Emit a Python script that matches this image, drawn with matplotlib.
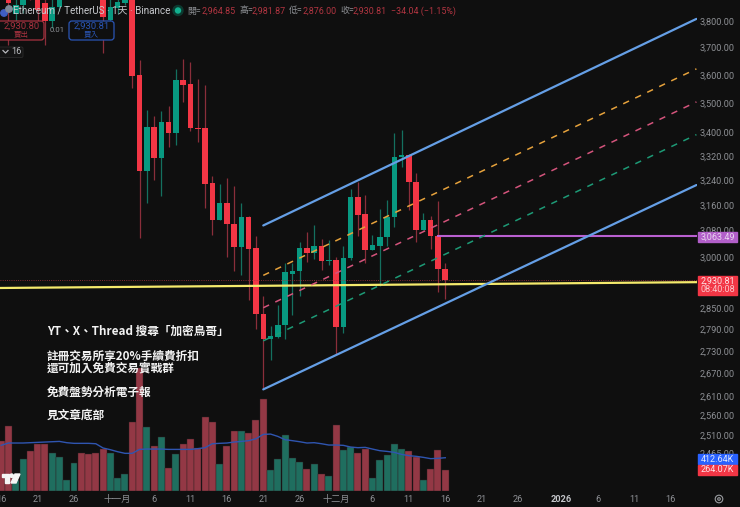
import matplotlib
matplotlib.use("Agg")
import matplotlib.pyplot as plt
from matplotlib.patches import Circle, FancyBboxPatch, Polygon, Rectangle
from matplotlib.ticker import FixedLocator, FuncFormatter, NullLocator
from matplotlib.transforms import Affine2D

plt.rcParams["font.family"] = ["Roboto", "Noto Sans CJK TC", "DejaVu Sans"]

# daily candles, 16 Oct to 16 Dec
opens = [3985, 3900, 3825, 3860, 3985, 3890, 3870, 3800, 3853, 3930, 4010, 4060, 3990, 3960, 3940,
         3804, 3850, 3868, 3907, 3600, 3270, 3417, 3311, 3434, 3396, 3582, 3568, 3414, 3414, 3231,
         3112, 3168, 3102, 3029, 3121, 3026, 2833, 2764, 2769, 2803, 2948, 2957, 3026, 3011, 3032,
         2987, 2990, 2797, 2996, 3186, 3133, 3020, 3032, 3059, 3121, 3317, 3323, 3235, 3081, 3112,
         3062, 2964.85]
highs = [4040, 3950, 3900, 4000, 4000, 3920, 3900, 3890, 3950, 4020, 4080, 4090, 4010, 4000, 3960,
         3900, 3900, 3930, 3918, 3654, 3476, 3455, 3472, 3490, 3622, 3658, 3647, 3586, 3564, 3253,
         3228, 3247, 3222, 3168, 3125, 3062, 2884, 2800, 2859, 2983, 2981, 3044, 3075, 3096, 3053,
         3050, 2999, 3032, 3212, 3235, 3193, 3068, 3149, 3177, 3395, 3407, 3325, 3264, 3134, 3127,
         3174, 2981.87]
lows = [3900, 3710, 3800, 3830, 3880, 3800, 3710, 3775, 3840, 3920, 3990, 3980, 3950, 3930, 3680,
        3800, 3825, 3860, 3553, 3056, 3165, 3241, 3190, 3350, 3356, 3504, 3403, 3366, 3152, 3068,
        3112, 3000, 2957, 2945, 2873, 2791, 2630, 2706, 2765, 2764, 2830, 2884, 2984, 2993, 2960,
        2975, 2722, 2780, 2990, 3062, 2981, 3020, 2914, 3032, 3090, 3284, 3143, 3044, 3081, 3023,
        2896, 2876.00]
closes = [3900, 3870, 3860, 3985, 3900, 3842, 3800, 3853, 3930, 4010, 4060, 3990, 3960, 3940, 3815,
          3853, 3872, 3900, 3598, 3270, 3417, 3311, 3434, 3396, 3582, 3564, 3414, 3410, 3228, 3112,
          3168, 3099, 3029, 3121, 3023, 2833, 2764, 2772, 2803, 2954, 2957, 3026, 3011, 3032, 2987,
          2990, 2797, 2996, 3186, 3130, 3020, 3035, 3059, 3121, 3317, 3323, 3235, 3081, 3112, 3062,
          2963, 2930.81]

# volume and its moving average, in thousands
volumes = [624, 810, 132, 400, 496, 578, 578, 467, 417, 140, 343, 475, 458, 475, 516, 467, 157, 215,
           851, 1522, 789, 553, 665, 289, 454, 578, 644, 529, 921, 859, 335, 553, 739, 739, 719, 880,
           1144, 260, 400, 698, 413, 355, 277, 339, 215, 186, 822, 512, 545, 475, 520, 165, 384, 442,
           586, 525, 491, 421, 140, 277, 504, 264.07]
volume_ma = [566, 595, 595, 595, 599, 603, 607, 611, 615, 599, 591, 591, 591, 586, 533, 512, 487, 467,
             467, 516, 520, 520, 520, 516, 516, 516, 516, 525, 537, 586, 591, 595, 607, 615, 624, 648,
             702, 706, 677, 636, 624, 611, 595, 599, 586, 570, 570, 566, 545, 537, 541, 520, 500, 491,
             479, 454, 438, 430, 417, 401, 405, 412.64]

# drawn channel, (day index, price) at both ends
channel_days = [36, 95.5]
channel_upper = [3096, 3808]
channel_lower = [2627, 3224]
channel_orange = [2945, 3622]
channel_pink = [2851, 3504]
channel_green = [2758, 3391]

support_days = [-0.2, 95.6]
support_prices = [2908, 2925]
level_day = 60
level_price = 3063.49
last_price = 2930.81

price_ticks = [3800, 3700, 3600, 3500, 3400, 3320, 3240, 3160, 3080, 3000,
               2850, 2790, 2730, 2670, 2610, 2560, 2510, 2465]
date_ticks = [0, 5, 10, 16, 21, 26, 31, 36, 41, 46, 51, 56, 61, 66, 71, 77, 82, 87, 92]
date_labels = ["16", "21", "26", "十一月", "6", "11", "16", "21", "26", "十二月",
               "6", "11", "16", "21", "26", "2026", "6", "11", "16"]

notes = [(331, "YT、X、Thread 搜尋「加密鳥哥」"), (356, "註冊交易所享20%手續費折扣"),
         (368, "還可加入免費交易實戰群"), (392, "免費盤勢分析電子報"), (415, "見文章底部")]

BG = "#0f0f0f"
RED = "#f23645"
GREEN = "#089981"
DIM = "#8d8f94"

fig = plt.figure(figsize=(7.4, 5.07), dpi=100, facecolor=BG)
# top-left pixel coordinates for the chart chrome
PX = Affine2D().scale(1, -1).translate(0, 507)

days = list(range(len(opens)))
up = [c >= o for o, c in zip(opens, closes)]

ax_vol = fig.add_axes([0, 16 / 507, 697 / 740, 491 / 507])
ax_vol.set_xlim(-0.165, 95.58)
ax_vol.set_ylim(0, 491 * 12.4)
ax_vol.axis("off")
ax_vol.bar(days, volumes, width=0.96, color=["#1f6e5f" if u else "#933845" for u in up],
           edgecolor="#2e2023", linewidth=0.3)
ax_vol.plot(days, volume_ma, color="#2f55b0", lw=1.0)

ax = fig.add_axes([0, 16 / 507, 697 / 740, 491 / 507], zorder=2)
ax.patch.set_visible(False)
ax.set_yscale("log")
ax.set_xlim(-0.165, 95.58)
ax.set_ylim(2372.7, 3880.8)
for side in ax.spines.values():
    side.set_visible(False)

ax.vlines(days, lows, highs, colors=["#14705f" if u else "#8a2e3a" for u in up], lw=0.9, zorder=2)
ax.bar(days, [abs(c - o) for o, c in zip(opens, closes)], bottom=[min(o, c) for o, c in zip(opens, closes)],
       width=0.76, color=[GREEN if u else RED for u in up], linewidth=0, zorder=3)

ax.axhline(last_price, color="#a8333f", lw=0.6, ls=":", zorder=3)
ax.plot(support_days, support_prices, color="#f5e96c", lw=1.6, zorder=4)
ax.plot([level_day, 95.6], [level_price, level_price], color="#b960d0", lw=1.5, zorder=4)
ax.plot(channel_days, channel_upper, color="#659fe6", lw=1.6, zorder=4, solid_capstyle="round")
ax.plot(channel_days, channel_lower, color="#659fe6", lw=1.6, zorder=4, solid_capstyle="round")
ax.plot(channel_days, channel_orange, color="#e6a23c", lw=1.1, ls=(0, (4.2, 4.5)), zorder=4)
ax.plot(channel_days, channel_pink, color="#d4547c", lw=1.1, ls=(0, (4.2, 4.5)), zorder=4)
ax.plot(channel_days, channel_green, color="#1d9a76", lw=1.1, ls=(0, (4.2, 4.5)), zorder=4)

ax.yaxis.tick_right()
ax.yaxis.set_major_locator(FixedLocator(price_ticks))
ax.yaxis.set_minor_locator(NullLocator())
ax.yaxis.set_major_formatter(FuncFormatter(lambda v, _: f"{v:,.2f}"))
ax.tick_params(axis="y", which="major", length=0, pad=27, labelsize=6.6, labelcolor=DIM)
for lab in ax.get_yticklabels():
    lab.set_ha("right")

ax.set_xticks(date_ticks)
ax.set_xticklabels(date_labels)
ax.tick_params(axis="x", length=0, pad=3, labelsize=6.6, labelcolor=DIM)
for lab, txt in zip(ax.get_xticklabels(), date_labels):
    if txt == "2026":
        lab.set_color("#c4c6ca")
        lab.set_fontweight("bold")

# note block
for y, line in notes:
    fig.text(47, y, line, transform=PX, color="#f2f2f2", fontsize=8.4, fontweight="bold",
             family=["Noto Sans CJK TC", "DejaVu Sans"], va="center", ha="left", zorder=10)

# header line
fig.text(13, 11, "Ethereum / TetherUS · 1天 · Binance", transform=PX, color="#c6c8cc", fontsize=7.1,
         va="center", zorder=10)
fig.add_artist(Circle((178, 10.5), 5, transform=PX, color="#0c3a30", zorder=10))
fig.add_artist(Circle((178, 10.5), 2.5, transform=PX, color="#12b08f", zorder=11))
fig.add_artist(Circle((4, 13), 3.2, transform=PX, color="#3f5fc4", zorder=10))
fig.add_artist(Circle((9, 9), 3.2, transform=PX, color="#7f8a99", zorder=10))
header = [(187, "開=", DIM), (202, f"{opens[-1]:,.2f}", "#b23541"), (239, "高=", DIM),
          (252, f"{highs[-1]:,.2f}", "#b23541"), (289, "低=", DIM), (303, f"{lows[-1]:,.2f}", "#b23541"),
          (340, "收=", DIM), (353, f"{closes[-1]:,.2f}", "#b23541"), (391, "−34.04 (−1.15%)", "#b23541")]
for x, s, col in header:
    fig.text(x, 11, s, transform=PX, color=col, fontsize=6.4, va="center", zorder=10)

# buy and sell buttons
for x0, w, col, price, side in [(-3, 47, "#a8323f", "2,930.80", "賣出"), (69, 45, "#2a55b5", "2,930.81", "買入")]:
    fig.add_artist(FancyBboxPatch((x0, 21), w, 19, boxstyle="round,pad=0,rounding_size=3", transform=PX,
                                  facecolor=BG, edgecolor=col, lw=0.9, zorder=10))
    fig.text(x0 + w / 2 + (1 if x0 < 0 else 0), 26.5, price, transform=PX, color=col, fontsize=6.8,
             ha="center", va="center", zorder=11)
    fig.text(x0 + w / 2 + (1 if x0 < 0 else 0), 35, side, transform=PX, color=col, fontsize=5.4,
             ha="center", va="center", zorder=11)
fig.text(57, 30.5, "0.01", transform=PX, color=DIM, fontsize=5.6, ha="center", va="center", zorder=11)
fig.add_artist(FancyBboxPatch((-3, 47), 26, 10.5, boxstyle="round,pad=0,rounding_size=1.5", transform=PX,
                              facecolor="#141414", edgecolor="#2b2b2b", lw=0.6, zorder=10))
fig.add_artist(plt.Line2D([3, 5.5, 8], [50.5, 53, 50.5], transform=PX, color="#b8babe", lw=0.9, zorder=11))
fig.text(16.5, 52, "16", transform=PX, color="#b8babe", fontsize=6.6, ha="center", va="center", zorder=11)

# TradingView logo
fig.add_artist(Polygon([(2, 474), (9, 474), (9, 483), (5, 483), (5, 477), (2, 477)], transform=PX,
                       color="#f5f5f5", zorder=10))
fig.add_artist(Circle((11.7, 475.7), 1.7, transform=PX, color="#f5f5f5", zorder=10))
fig.add_artist(Polygon([(15, 474), (20, 474), (16, 483), (11, 483)], transform=PX, color="#f5f5f5", zorder=10))

# price scale labels
fig.add_artist(Rectangle((698, 232), 39, 9.7, transform=PX, color="#b25fc9", zorder=10))
fig.text(717.5, 237, f"{level_price:,.2f}", transform=PX, color="#e9d5ef", fontsize=6.5, ha="center", va="center", zorder=11)
fig.add_artist(Rectangle((698, 276), 39, 18.7, transform=PX, color="#f23645", zorder=10))
fig.text(717.5, 281, f"{last_price:,.2f}", transform=PX, color="#fde3e5", fontsize=6.5, ha="center", va="center", zorder=11)
fig.text(717.5, 289.5, "08:40:08", transform=PX, color="#fbc7cb", fontsize=6.5, ha="center", va="center", zorder=11)
fig.add_artist(Rectangle((698, 454), 38.7, 9.7, transform=PX, color="#2962ff", zorder=10))
fig.text(717.5, 459, f"{volume_ma[-1]:.2f}K", transform=PX, color="#dfe6fb", fontsize=6.5, ha="center", va="center", zorder=11)
fig.add_artist(Rectangle((698, 465), 38.7, 10, transform=PX, color="#f23645", zorder=10))
fig.text(717.5, 470, f"{volumes[-1]:.2f}K", transform=PX, color="#fde3e5", fontsize=6.5, ha="center", va="center", zorder=11)

# settings icon
fig.add_artist(Circle((719, 499), 3.8, transform=PX, fill=False, edgecolor="#9a9ca0", lw=0.8, zorder=10))
fig.add_artist(Circle((719, 499), 1.3, transform=PX, fill=False, edgecolor="#9a9ca0", lw=0.8, zorder=10))

fig.savefig("out.png", dpi=100, facecolor=BG)
